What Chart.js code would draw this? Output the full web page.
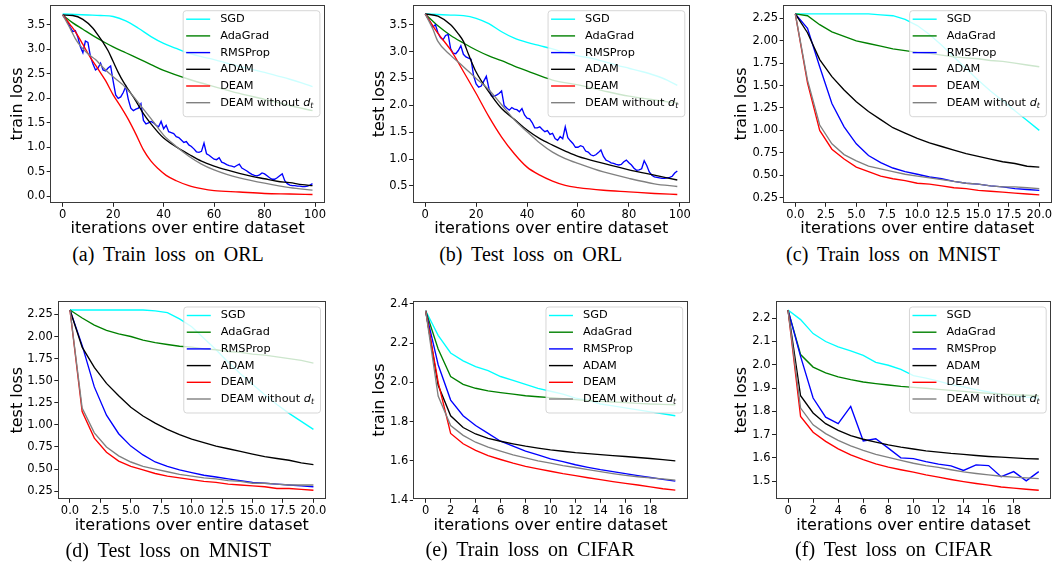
<!DOCTYPE html>
<html><head><meta charset="utf-8">
<script src="https://cdn.jsdelivr.net/npm/chart.js@4.4.1/dist/chart.umd.min.js"></script>
<style>
html,body{margin:0;padding:0;background:#fff;width:1053px;height:565px;overflow:hidden;position:relative;}
canvas{position:absolute;}
.cap{position:absolute;font-family:'Liberation Serif','Times New Roman',serif;font-size:20px;word-spacing:4px;color:#000;white-space:nowrap;transform:translate(-50%,-50%);line-height:1;}
</style></head><body>
<script>
// ---------- categories / legend ----------
const SERIES_NAMES = ['SGD','AdaGrad','RMSProp','ADAM','DEAM','DEAM without d_t'];
const SERIES_COLORS = ['#00ffff','#008000','#0000ff','#000000','#ff0000','#808080'];
const CAPTIONS = ['(a) Train loss on ORL','(b) Test loss on ORL','(c) Train loss on MNIST','(d) Test loss on MNIST','(e) Train loss on CIFAR','(f) Test loss on CIFAR'];
const X_TITLE = 'iterations over entire dataset';
const Y_TITLES = ['train loss','test loss','train loss','test loss','train loss','test loss'];

// ---------- tick labels ----------
const ORL_X_TICKS = ['0','20','40','60','80','100'];
const MNIST_X_TICKS = ['0.0','2.5','5.0','7.5','10.0','12.5','15.0','17.5','20.0'];
const CIFAR_X_TICKS = ['0','2','4','6','8','10','12','14','16','18'];
const A_Y_TICKS = ['0.0','0.5','1.0','1.5','2.0','2.5','3.0','3.5'];
const B_Y_TICKS = ['0.5','1.0','1.5','2.0','2.5','3.0','3.5'];
const MNIST_Y_TICKS = ['0.25','0.50','0.75','1.00','1.25','1.50','1.75','2.00','2.25'];
const E_Y_TICKS = ['1.4','1.6','1.8','2.0','2.2','2.4'];
const F_Y_TICKS = ['1.5','1.6','1.7','1.8','1.9','2.0','2.1','2.2'];

// ---------- iterations ----------
const ITER_100 = [0,1,2,3,4,5,6,7,8,9,10,11,12,13,14,15,16,17,18,19,20,21,22,23,24,25,26,27,28,29,30,31,32,33,34,35,36,37,38,39,40,41,42,43,44,45,46,47,48,49,50,51,52,53,54,55,56,57,58,59,60,61,62,63,64,65,66,67,68,69,70,71,72,73,74,75,76,77,78,79,80,81,82,83,84,85,86,87,88,89,90,91,92,93,94,95,96,97,98,99];
const ITER_21 = [0,1,2,3,4,5,6,7,8,9,10,11,12,13,14,15,16,17,18,19,20];

// ---------- (a) train loss ORL ----------
const sgdA_x = [0,5,10,15,20,25,30,35,40,45,50,55,60,65,70,75,80,85,90,95,99];
const sgdA_y = [3.72,3.71,3.70,3.69,3.67,3.58,3.43,3.26,3.12,3.02,2.92,2.85,2.79,2.72,2.65,2.59,2.53,2.46,2.39,2.31,2.24];
const adaA_x = [0,4,8,12,16,20,25,30,35,40,50,60,70,80,90,99];
const adaA_y = [3.70,3.54,3.41,3.28,3.16,3.05,2.93,2.81,2.69,2.57,2.39,2.24,2.10,1.98,1.85,1.75];
const rmsA_y = [3.70,3.64,3.55,3.45,3.36,3.38,3.25,3.05,2.93,3.17,
                3.14,2.85,2.70,2.58,2.62,2.72,2.58,2.56,2.62,2.66,
                2.35,2.07,2.00,2.03,2.12,2.24,1.98,1.80,1.75,1.78,
                1.80,1.89,1.55,1.48,1.50,1.53,1.50,1.45,1.42,1.53,
                1.38,1.45,1.32,1.30,1.28,1.22,1.20,1.15,1.10,1.12,
                1.05,1.02,0.97,0.91,0.90,0.92,1.09,0.87,0.84,0.80,
                0.76,0.75,0.79,0.70,0.68,0.65,0.63,0.62,0.60,0.63,
                0.66,0.58,0.55,0.52,0.48,0.45,0.43,0.42,0.44,0.48,
                0.46,0.42,0.38,0.35,0.35,0.38,0.42,0.46,0.32,0.26,
                0.23,0.22,0.22,0.21,0.21,0.20,0.20,0.21,0.23,0.26];
const adamA_x = [0,4,8,12,14,16,18,20,22,24,26,28,30,32,35,40,45,50,55,60,65,70,75,80,85,90,95,99];
const adamA_y = [3.70,3.69,3.61,3.43,3.29,3.14,2.97,2.75,2.53,2.34,2.18,2.03,1.86,1.69,1.48,1.19,1.01,0.86,0.72,0.62,0.54,0.47,0.41,0.36,0.31,0.28,0.24,0.22];
const deamA_x = [0,3,5,8,11,14,17,20,23,26,29,32,35,38,41,45,50,55,60,70,80,90,99];
const deamA_y = [3.70,3.50,3.36,3.10,2.83,2.60,2.36,2.07,1.83,1.57,1.27,0.95,0.72,0.56,0.43,0.32,0.22,0.16,0.12,0.09,0.06,0.05,0.04];
const grayA_x = [0,3,5,7,10,13,16,20,24,28,32,36,40,45,50,55,60,65,70,80,90,99];
const grayA_y = [3.70,3.42,3.22,3.07,2.91,2.79,2.63,2.44,2.27,2.04,1.78,1.52,1.25,1.02,0.82,0.66,0.54,0.45,0.38,0.27,0.18,0.13];

// ---------- (b) test loss ORL ----------
const sgdB_x = [0,5,10,15,20,25,30,35,40,45,50,55,60,65,70,75,80,85,90,95,99];
const sgdB_y = [3.70,3.69,3.68,3.67,3.62,3.52,3.37,3.25,3.17,3.11,3.05,2.98,2.92,2.88,2.82,2.75,2.69,2.63,2.56,2.47,2.37];
const adaB_x = [0,5,10,15,20,25,30,35,40,50,60,70,80,90,99];
const adaB_y = [3.70,3.48,3.30,3.16,3.03,2.92,2.83,2.73,2.64,2.47,2.38,2.27,2.17,2.10,2.04];
const rmsB_y = [3.70,3.63,3.55,3.46,3.50,3.35,3.26,3.22,3.30,3.32,
                3.05,2.97,2.96,3.02,3.11,2.95,2.90,2.88,2.86,2.55,
                2.40,2.34,2.36,2.45,2.54,2.32,2.18,2.17,2.19,2.22,
                2.27,2.00,1.95,1.91,1.96,1.93,1.92,1.88,1.94,1.82,
                1.76,1.75,1.68,1.58,1.58,1.60,1.55,1.51,1.53,1.46,
                1.48,1.38,1.35,1.42,1.38,1.60,1.40,1.34,1.29,1.22,
                1.22,1.25,1.23,1.15,1.13,1.08,1.06,1.08,1.12,1.17,
                1.05,0.98,0.96,0.93,0.92,0.90,0.89,0.90,0.95,0.98,
                0.93,0.89,0.83,0.79,0.80,0.82,0.97,0.88,0.76,0.70,
                0.67,0.66,0.65,0.64,0.64,0.65,0.66,0.68,0.74,0.78];
const adamB_x = [0,5,10,13,15,17,20,25,30,35,40,45,50,55,60,70,80,90,99];
const adamB_y = [3.70,3.66,3.50,3.33,3.19,2.95,2.62,2.25,1.94,1.74,1.54,1.38,1.26,1.15,1.05,0.92,0.80,0.70,0.61];
const deamB_x = [0,5,10,15,20,25,30,35,40,45,50,55,60,70,80,90,99];
const deamB_y = [3.70,3.34,3.03,2.63,2.22,1.79,1.41,1.10,0.85,0.70,0.59,0.51,0.47,0.42,0.39,0.36,0.34];
const grayB_x = [0,3,5,10,15,20,25,30,35,40,45,50,55,60,70,80,90,99];
const grayB_y = [3.70,3.42,3.19,2.93,2.72,2.50,2.29,2.01,1.73,1.51,1.30,1.13,1.01,0.92,0.76,0.64,0.54,0.49];

// ---------- (c) train loss MNIST ----------
const sgdC  = [2.30,2.30,2.30,2.30,2.30,2.30,2.30,2.29,2.28,2.24,2.17,2.07,1.95,1.82,1.69,1.56,1.44,1.33,1.22,1.11,1.00];
const adaC  = [2.30,2.28,2.18,2.10,2.05,2.00,1.97,1.94,1.91,1.89,1.87,1.86,1.84,1.82,1.81,1.80,1.78,1.77,1.75,1.73,1.71];
const rmsC  = [2.30,2.14,1.71,1.30,1.04,0.85,0.72,0.64,0.58,0.54,0.51,0.48,0.46,0.43,0.41,0.40,0.38,0.37,0.35,0.34,0.33];
const adamC = [2.30,2.09,1.79,1.60,1.45,1.32,1.21,1.12,1.03,0.97,0.91,0.86,0.82,0.78,0.74,0.71,0.68,0.65,0.63,0.60,0.59];
const deamC = [2.30,1.53,1.00,0.79,0.68,0.59,0.54,0.49,0.46,0.44,0.41,0.40,0.38,0.36,0.35,0.33,0.32,0.31,0.30,0.29,0.28];
const grayC = [2.30,1.56,1.06,0.85,0.73,0.66,0.60,0.57,0.54,0.51,0.49,0.47,0.45,0.43,0.41,0.40,0.38,0.37,0.37,0.36,0.35];

// ---------- (d) test loss MNIST ----------
const sgdD  = [2.30,2.30,2.30,2.30,2.30,2.30,2.30,2.29,2.27,2.20,2.11,1.98,1.85,1.71,1.58,1.46,1.34,1.23,1.13,1.04,0.95];
const adaD  = [2.30,2.21,2.13,2.07,2.03,2.00,1.96,1.93,1.91,1.89,1.88,1.86,1.85,1.83,1.82,1.80,1.79,1.77,1.75,1.73,1.70];
const rmsD  = [2.30,1.90,1.43,1.11,0.90,0.76,0.66,0.58,0.53,0.49,0.46,0.43,0.41,0.39,0.37,0.35,0.34,0.33,0.32,0.31,0.30];
const adamD = [2.30,1.88,1.65,1.47,1.33,1.20,1.10,1.02,0.95,0.89,0.84,0.80,0.76,0.73,0.70,0.67,0.64,0.62,0.60,0.57,0.55];
const deamD = [2.30,1.15,0.85,0.69,0.59,0.53,0.49,0.45,0.42,0.40,0.38,0.36,0.35,0.33,0.32,0.31,0.30,0.28,0.28,0.27,0.26];
const grayD = [2.30,1.19,0.91,0.75,0.65,0.58,0.53,0.50,0.47,0.44,0.42,0.40,0.39,0.37,0.36,0.34,0.34,0.33,0.32,0.32,0.32];

// ---------- (e) train loss CIFAR ----------
const sgdE  = [2.365,2.24,2.15,2.11,2.08,2.06,2.03,2.01,1.99,1.97,1.955,1.94,1.92,1.91,1.89,1.88,1.87,1.86,1.85,1.84,1.83];
const adaE  = [2.365,2.17,2.03,1.99,1.97,1.957,1.948,1.94,1.932,1.927,1.922,1.917,1.912,1.907,1.903,1.90,1.897,1.893,1.89,1.888,1.886];
const rmsE  = [2.365,2.09,1.91,1.83,1.78,1.74,1.70,1.675,1.65,1.63,1.61,1.596,1.58,1.567,1.555,1.545,1.535,1.525,1.515,1.506,1.497];
const adamE = [2.365,1.985,1.83,1.77,1.737,1.715,1.70,1.687,1.675,1.665,1.656,1.649,1.642,1.637,1.632,1.627,1.622,1.617,1.612,1.606,1.60];
const deamE = [2.365,2.00,1.74,1.687,1.653,1.627,1.607,1.588,1.572,1.559,1.547,1.535,1.525,1.514,1.504,1.494,1.485,1.477,1.467,1.458,1.451];
const grayE = [2.365,1.93,1.78,1.73,1.695,1.67,1.65,1.63,1.615,1.60,1.588,1.576,1.566,1.555,1.545,1.535,1.526,1.519,1.513,1.508,1.502];

// ---------- (f) test loss CIFAR ----------
const sgdF  = [2.235,2.194,2.134,2.10,2.077,2.06,2.04,2.01,1.998,1.98,1.953,1.943,1.93,1.915,1.905,1.893,1.883,1.874,1.867,1.861,1.857];
const adaF  = [2.235,2.044,1.99,1.965,1.948,1.936,1.926,1.919,1.913,1.907,1.903,1.899,1.894,1.89,1.886,1.881,1.877,1.874,1.871,1.869,1.867];
const rmsF  = [2.235,2.036,1.857,1.775,1.747,1.821,1.673,1.682,1.642,1.60,1.597,1.584,1.573,1.566,1.546,1.57,1.567,1.519,1.541,1.501,1.541];
const adamF = [2.235,1.867,1.793,1.747,1.718,1.696,1.68,1.668,1.656,1.646,1.638,1.63,1.625,1.619,1.615,1.61,1.606,1.603,1.60,1.597,1.595];
const deamF = [2.235,1.778,1.71,1.671,1.639,1.613,1.592,1.574,1.56,1.549,1.539,1.527,1.517,1.507,1.498,1.49,1.483,1.475,1.47,1.465,1.461];
const grayF = [2.235,1.814,1.742,1.704,1.675,1.652,1.632,1.615,1.602,1.589,1.577,1.567,1.559,1.549,1.54,1.533,1.527,1.521,1.517,1.514,1.511];

// ---------- layout (page pixels) ----------
const LAYOUT = [
  {box:[0,0,351,240],   area:[50.2,325.0,4.7,203.3],  x:[-4.95,103.95], y:[-0.14,3.91],  yPad:7.9,  xPad:1.1, cap:[168,254]},
  {box:[351,0,351,240], area:[412.6,689.9,4.7,203.3], x:[-4.95,103.95], y:[0.177,3.873], yPad:19.6, xPad:1.1, cap:[530.7,254]},
  {box:[702,0,351,240], area:[783.1,1051.5,4.7,203.3],x:[-1,21],        y:[0.186,2.403], yPad:30.1, xPad:1.1, cap:[893,254]},
  {box:[0,280,351,260], area:[57.8,325.6,301,499.3],  x:[-1,21],        y:[0.158,2.402], yPad:7.9,  xPad:4.4, cap:[168.3,550]},
  {box:[351,280,351,260],area:[413.2,687.8,301,499.3],x:[-1,21],        y:[1.404,2.415], yPad:19.4, xPad:4.4, cap:[530,549]},
  {box:[702,280,351,260],area:[775.5,1051.3,301,499.3],x:[-1,21],       y:[1.422,2.274], yPad:30.4, xPad:4.4, cap:[893.7,549]}
];

const PANELS = [
  {xt:ORL_X_TICKS, yt:A_Y_TICKS, series:[[sgdA_x,sgdA_y],[adaA_x,adaA_y],[ITER_100,rmsA_y],[adamA_x,adamA_y],[deamA_x,deamA_y],[grayA_x,grayA_y]]},
  {xt:ORL_X_TICKS, yt:B_Y_TICKS, series:[[sgdB_x,sgdB_y],[adaB_x,adaB_y],[ITER_100,rmsB_y],[adamB_x,adamB_y],[deamB_x,deamB_y],[grayB_x,grayB_y]]},
  {xt:MNIST_X_TICKS, yt:MNIST_Y_TICKS, series:[[ITER_21,sgdC],[ITER_21,adaC],[ITER_21,rmsC],[ITER_21,adamC],[ITER_21,deamC],[ITER_21,grayC]]},
  {xt:MNIST_X_TICKS, yt:MNIST_Y_TICKS, series:[[ITER_21,sgdD],[ITER_21,adaD],[ITER_21,rmsD],[ITER_21,adamD],[ITER_21,deamD],[ITER_21,grayD]]},
  {xt:CIFAR_X_TICKS, yt:E_Y_TICKS, series:[[ITER_21,sgdE],[ITER_21,adaE],[ITER_21,rmsE],[ITER_21,adamE],[ITER_21,deamE],[ITER_21,grayE]]},
  {xt:CIFAR_X_TICKS, yt:F_Y_TICKS, series:[[ITER_21,sgdF],[ITER_21,adaF],[ITER_21,rmsF],[ITER_21,adamF],[ITER_21,deamF],[ITER_21,grayF]]}
];

const FONT = "'DejaVu Sans', sans-serif";

function drawLegendLabel(ctx, text, x, y, fs, measureOnly) {
  const m = text.match(/^(.*) d_t$/);
  ctx.font = fs + "px " + FONT;
  if (!m) { if (!measureOnly) ctx.fillText(text, x, y); return ctx.measureText(text).width; }
  const base = m[1] + ' ';
  let cx = x;
  if (!measureOnly) ctx.fillText(base, cx, y);
  cx += ctx.measureText(base).width;
  ctx.font = "italic " + fs + "px " + FONT;
  if (!measureOnly) ctx.fillText('d', cx, y);
  cx += ctx.measureText('d').width;
  ctx.font = "italic " + (fs * 0.7) + "px " + FONT;
  if (!measureOnly) ctx.fillText('t', cx, y + fs * 0.28);
  cx += ctx.measureText('t').width;
  return cx - x;
}

const framePlugin = {
  id: 'frameLegend',
  afterDraw(chart) {
    const ctx = chart.ctx, ca = chart.chartArea;
    ctx.save();
    ctx.strokeStyle = '#3a3a3a';
    ctx.lineWidth = 1;
    const l = Math.round(ca.left) + 0.5, t = Math.round(ca.top) + 0.5;
    const r = Math.round(ca.right) - 0.5, b = Math.round(ca.bottom) - 0.5;
    ctx.strokeRect(l, t, r - l, b - t);
    const fs = 11.3;
    let tw = 0;
    SERIES_NAMES.forEach(n => { tw = Math.max(tw, drawLegendLabel(ctx, n, 0, 0, fs, true)); });
    const hs = 3.5, hl = 24, gap = 10;
    const w = hs + hl + gap + tw + 6;
    const h = 106;
    const right = ca.right - 5.6, top = ca.top + 5.5, left = right - w;
    ctx.beginPath();
    ctx.roundRect(left + 0.5, top + 0.5, w, h, 3);
    ctx.fillStyle = 'rgba(255,255,255,0.8)';
    ctx.fill();
    ctx.strokeStyle = 'rgba(204,204,204,0.8)';
    ctx.stroke();
    ctx.textBaseline = 'middle';
    ctx.textAlign = 'left';
    SERIES_NAMES.forEach((n, i) => {
      const cy = top + 9 + i * 16.7;
      ctx.strokeStyle = SERIES_COLORS[i];
      ctx.lineWidth = 1.4;
      ctx.beginPath();
      ctx.moveTo(left + hs, cy);
      ctx.lineTo(left + hs + hl, cy);
      ctx.stroke();
      ctx.fillStyle = '#000';
      drawLegendLabel(ctx, n, left + hs + hl + gap, cy, fs, false);
    });
    ctx.restore();
  }
};

PANELS.forEach((p, k) => {
  const L = LAYOUT[k];
  const [bx, by, bw, bh] = L.box;
  const [aL, aR, aT, aB] = L.area;
  const cv = document.createElement('canvas');
  cv.width = bw; cv.height = bh;
  cv.style.left = bx + 'px'; cv.style.top = by + 'px';
  cv.style.width = bw + 'px'; cv.style.height = bh + 'px';
  document.body.appendChild(cv);

  const cap = document.createElement('div');
  cap.className = 'cap';
  cap.textContent = CAPTIONS[k];
  cap.style.left = L.cap[0] + 'px';
  cap.style.top = L.cap[1] + 'px';
  document.body.appendChild(cap);

  const datasets = p.series.map((s, i) => ({
    label: SERIES_NAMES[i],
    data: s[0].map((x, j) => ({x: x, y: s[1][j]})),
    borderColor: SERIES_COLORS[i],
    backgroundColor: SERIES_COLORS[i],
    borderWidth: 1.35,
    pointRadius: 0,
    fill: false,
    cubicInterpolationMode: (s[0].length < 40 && s[0] !== ITER_21) ? 'monotone' : 'default',
    tension: 0,
    order: SERIES_NAMES.length - i
  }));

  const tickFont = {family: FONT, size: 11.5};
  const titleFont = {family: FONT, size: 16};
  const mkTicks = labels => (axis => { axis.ticks = labels.map(s => ({value: parseFloat(s)})); });
  const mkLabel = labels => ((v) => { const f = labels.find(s => Math.abs(parseFloat(s) - v) < 1e-9); return f === undefined ? '' : f; });

  new Chart(cv.getContext('2d'), {
    type: 'line',
    data: {datasets},
    options: {
      responsive: false,
      animation: false,
      devicePixelRatio: 1,
      layout: {padding: {left: 0, top: aT - by, right: (bx + bw) - aR, bottom: 0}},
      plugins: {legend: {display: false}, tooltip: {enabled: false}},
      scales: {
        x: {
          type: 'linear', min: L.x[0], max: L.x[1],
          afterBuildTicks: mkTicks(p.xt),
          afterFit: sc => { sc.height = (by + bh) - aB; sc.paddingLeft = 0; sc.paddingRight = 0; sc.paddingTop = 0; sc.paddingBottom = 0; },
          ticks: {autoSkip: false, maxRotation: 0, minRotation: 0, padding: 1.5, color: '#000', font: tickFont, callback: mkLabel(p.xt)},
          grid: {display: true, drawOnChartArea: false, drawTicks: true, tickLength: 3.5, color: '#222', lineWidth: 1},
          border: {display: false},
          title: {display: true, text: X_TITLE, color: '#000', font: titleFont, padding: {top: 0, bottom: L.xPad}}
        },
        y: {
          type: 'linear', min: L.y[0], max: L.y[1],
          afterBuildTicks: mkTicks(p.yt),
          afterFit: sc => { sc.width = aL - bx; sc.paddingTop = 0; sc.paddingBottom = 0; sc.paddingLeft = 0; sc.paddingRight = 0; },
          ticks: {autoSkip: false, padding: 1.5, color: '#000', font: tickFont, callback: mkLabel(p.yt)},
          grid: {display: true, drawOnChartArea: false, drawTicks: true, tickLength: 3.5, color: '#222', lineWidth: 1},
          border: {display: false},
          title: {display: true, text: Y_TITLES[k], color: '#000', font: titleFont, padding: {top: L.yPad, bottom: 0}}
        }
      }
    },
    plugins: [framePlugin]
  });
});
</script>
</body></html>
